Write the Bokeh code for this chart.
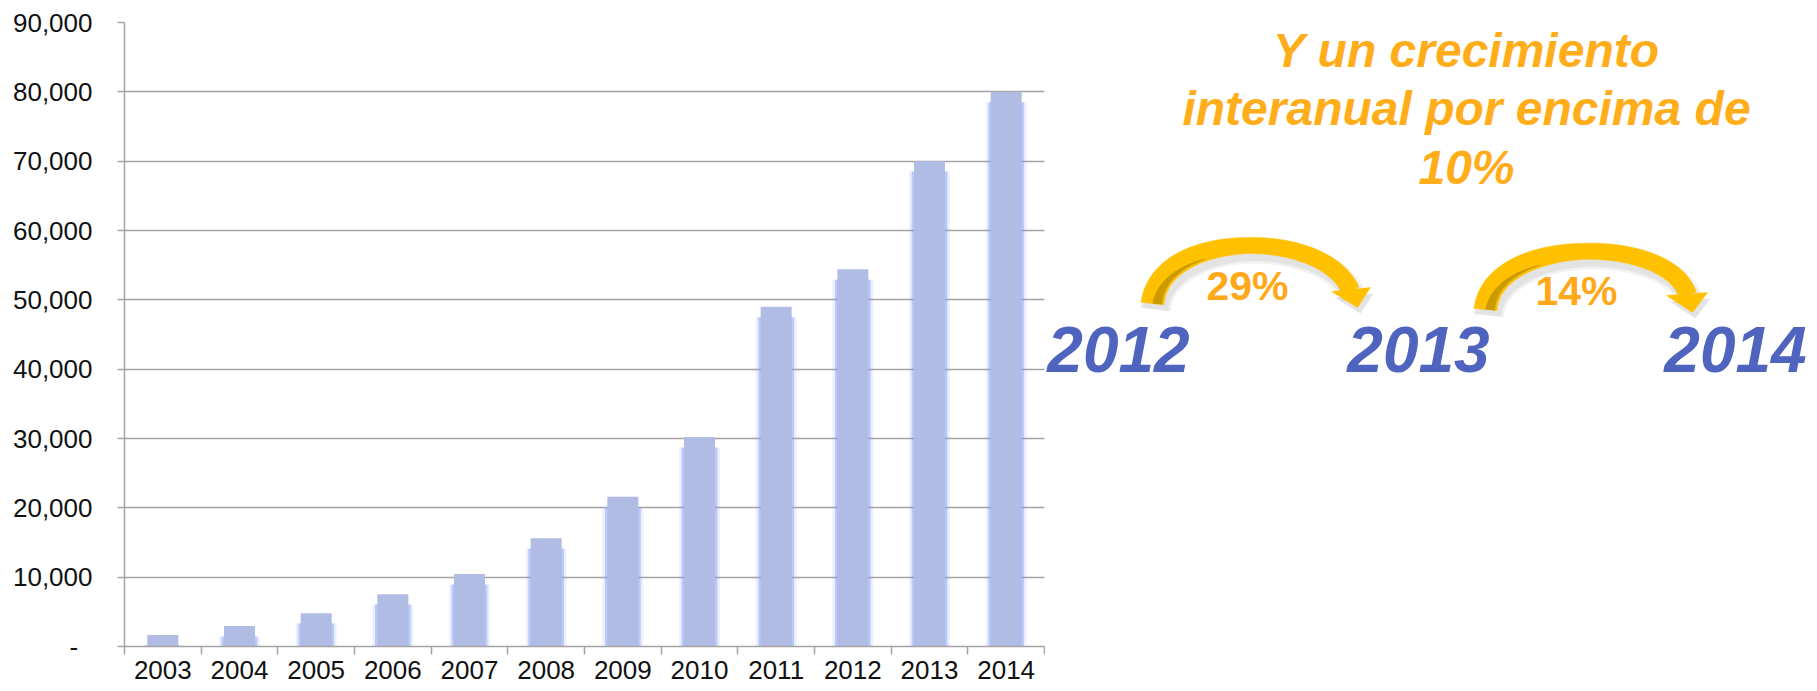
import numpy as np
from bokeh.plotting import figure
from bokeh.models import Range1d, FixedTicker, NumeralTickFormatter
from bokeh.layouts import row
from bokeh.core.properties import value
from bokeh.embed import file_html
from bokeh.resources import INLINE

# ---------------- data ----------------
years = ["2003", "2004", "2005", "2006", "2007", "2008",
         "2009", "2010", "2011", "2012", "2013", "2014"]
values = [1650, 2950, 4800, 7550, 10450, 15600,
          21600, 30200, 49000, 54400, 70000, 80000]
y_ticks = [0, 10000, 20000, 30000, 40000, 50000, 60000, 70000, 80000, 90000]

title_lines = ["Y un crecimiento", "interanual por encima de", "10%"]
highlight_years = ["2012", "2013", "2014"]
growth_labels = ["29%", "14%"]

# decorative layout (page pixel coordinates) for the right-hand illustration
title_x = 1466
title_baselines = [50, 108, 167]
year_x = [1118, 1418, 1735]
year_baseline = 349
growth_x = [1247, 1576]
growth_baseline = [285, 290]
arrow_curves = [
    [(1152, 303), (1160, 228), (1324, 228), (1350, 290)],
    [(1485, 309), (1492, 234), (1668, 234), (1687, 294)],
]
arrow_heads = [
    [(1331, 291), (1370, 287), (1357, 307)],
    [(1666, 295), (1707, 292), (1692, 312)],
]

FONT = "Liberation Sans"
GRID = "#a3a3a3"
W, H = 1816, 690
LEFT_W = 1045
TOP, BOTTOM = 22, 44          # frame borders shared by both panels

# ---------------- left: bar chart ----------------
p1 = figure(width=LEFT_W, height=H,
            x_range=Range1d(-0.5, len(years) - 0.5),
            y_range=Range1d(0, 90000),
            output_backend="svg", toolbar_location=None,
            min_border_left=124, min_border_right=1,
            min_border_top=TOP, min_border_bottom=BOTTOM)
p1.outline_line_color = None
p1.background_fill_color = "white"
p1.border_fill_color = "white"

idx = list(range(len(years)))
glow_top = [max(0, v - 1500) for v in values]

p1.vbar(x=idx, top=glow_top, bottom=0, width=0.53,
        fill_color="#8aa3f5", fill_alpha=0.18, line_color=None)
p1.vbar(x=idx, top=glow_top, bottom=0, width=0.465,
        fill_color="#7f9bf7", fill_alpha=0.45, line_color=None)
p1.vbar(x=idx, top=values, bottom=0, width=0.405,
        fill_color="#b0bce4", line_color=None)

# axes
xax = p1.xaxis[0]
xax.ticker = FixedTicker(ticks=idx, minor_ticks=[i - 0.5 for i in range(len(years) + 1)])
xax.major_label_overrides = {i: y for i, y in zip(idx, years)}
xax.major_tick_out = 0
xax.major_tick_in = 0
xax.minor_tick_out = 8
xax.minor_tick_in = 0
xax.minor_tick_line_color = GRID
xax.minor_tick_line_width = 1.5
xax.axis_line_color = GRID
xax.axis_line_width = 1.5
xax.major_label_standoff = 6
xax.major_label_text_font = FONT
xax.major_label_text_font_size = "26px"
xax.major_label_text_color = "#111111"

yax = p1.yaxis[0]
yax.ticker = FixedTicker(ticks=y_ticks)
yax.formatter = NumeralTickFormatter(format="0,0")
yax.major_label_overrides = {0: "-\u00a0\u00a0"}
yax.major_tick_out = 7
yax.major_tick_in = 0
yax.minor_tick_out = 0
yax.minor_tick_in = 0
yax.major_tick_line_color = GRID
yax.major_tick_line_width = 1.5
yax.axis_line_color = GRID
yax.axis_line_width = 1.5
yax.major_label_standoff = 25
yax.major_label_text_font = FONT
yax.major_label_text_font_size = "26px"
yax.major_label_text_color = "#111111"

p1.xgrid.visible = False
p1.ygrid.ticker = FixedTicker(ticks=y_ticks)
p1.ygrid.grid_line_color = GRID
p1.ygrid.grid_line_width = 1.5

# ---------------- right: illustration (page-pixel coordinates) ----------------
p2 = figure(width=W - LEFT_W, height=H,
            x_range=Range1d(LEFT_W, W), y_range=Range1d(H - BOTTOM, TOP),
            output_backend="svg", toolbar_location=None,
            x_axis_location=None, y_axis_location=None,
            min_border_left=0, min_border_right=0,
            min_border_top=TOP, min_border_bottom=BOTTOM)
p2.outline_line_color = None
p2.grid.visible = False
p2.background_fill_color = "white"
p2.border_fill_color = "white"


def bezier(P, t):
    P = np.asarray(P, dtype=float)
    t = t[:, None]
    pts = ((1 - t) ** 3) * P[0] + 3 * ((1 - t) ** 2) * t * P[1] + \
        3 * (1 - t) * t ** 2 * P[2] + t ** 3 * P[3]
    d = 3 * ((1 - t) ** 2) * (P[1] - P[0]) + 6 * (1 - t) * t * (P[2] - P[1]) + \
        3 * t ** 2 * (P[3] - P[2])
    n = np.stack([-d[:, 1], d[:, 0]], axis=1)
    n /= np.linalg.norm(n, axis=1)[:, None]
    return pts, n


def band(P, t, widths, offset=None):
    pts, n = bezier(P, t)
    w = np.asarray(widths)[:, None]
    c = pts if offset is None else pts + n * np.asarray(offset)[:, None]
    a = c + n * w / 2
    b = c - n * w / 2
    poly = np.vstack([a, b[::-1]])
    return poly[:, 0], poly[:, 1]


def width_profile(t):
    return np.interp(t, [0, 0.5, 1], [23, 16, 18])


for P, Hd in zip(arrow_curves, arrow_heads):
    t = np.linspace(0, 1, 80)
    w = width_profile(t)
    hx = np.array([q[0] for q in Hd], dtype=float)
    hy = np.array([q[1] for q in Hd], dtype=float)
    # soft shadow
    for dx, dy, a, grow in [(3, 6, 0.05, 8), (3, 6, 0.06, 3)]:
        xs, ys = band(P, t, w + grow)
        p2.patch(xs + dx, ys + dy, fill_color="#000000", fill_alpha=a, line_color=None)
        p2.patch(hx + dx, hy + dy, fill_color="#000000", fill_alpha=a, line_color=None)
    xs, ys = band(P, t, w)
    p2.patch(xs, ys, fill_color="#ffc000", line_color="#ffc000", line_width=0.5)
    # darker inner shading near the tail
    t2 = np.linspace(0, 0.34, 30)
    w2 = width_profile(t2) * np.interp(t2, [0, 0.34], [0.42, 0.04])
    off = width_profile(t2) / 2 - w2 / 2 - 2.0
    xs2, ys2 = band(P, t2, w2, offset=off)
    p2.patch(xs2, ys2, fill_color="#c99b00", line_color=None)
    p2.patch(hx, hy, fill_color="#ffc000", line_color="#ffc000", line_width=0.5)

# title
p2.text(x=[title_x] * len(title_lines), y=title_baselines, text=title_lines,
        text_font=value(FONT), text_font_style="bold italic",
        text_font_size="48px", text_color="#ffad1a",
        text_align="center", text_baseline="alphabetic")

# growth percentages
p2.text(x=growth_x, y=growth_baseline, text=growth_labels,
        text_font=value(FONT), text_font_style="bold",
        text_font_size="41px", text_color="#ffa91a",
        text_align="center", text_baseline="alphabetic")

# big year labels
p2.text(x=year_x, y=[year_baseline] * len(highlight_years), text=highlight_years,
        text_font=value(FONT), text_font_style="bold italic",
        text_font_size="64px", text_color="#4e64be",
        text_align="center", text_baseline="alphabetic")

layout = row(p1, p2)
open("out.html", "w").write(file_html(layout, INLINE))
